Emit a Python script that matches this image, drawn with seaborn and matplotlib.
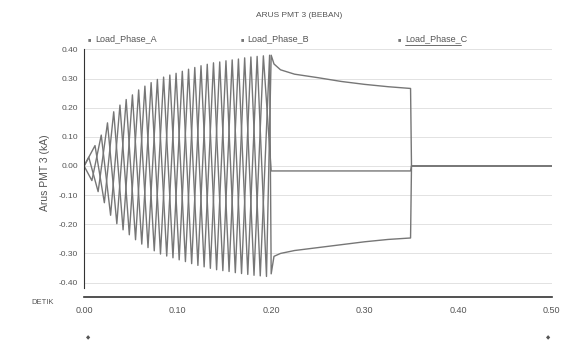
import numpy as np
import pandas as pd
import matplotlib
matplotlib.use("Agg")
import matplotlib.pyplot as plt
from matplotlib.lines import Line2D
import seaborn as sns

# --- data ---
phases = ['Load_Phase_A', 'Load_Phase_B', 'Load_Phase_C']

# successive current peaks (kA) of the three phases during the ramp-up,
# one every 1/300 s (peaks go A+, C-, B+, A-, C+, B-, ...)
peak_step_s = 0.003333
peak_amp = [0.030, 0.050, 0.070, 0.088, 0.106, 0.126, 0.148, 0.169, 0.186, 0.198,
            0.209, 0.219, 0.228, 0.236, 0.244, 0.253, 0.261, 0.268, 0.274, 0.280,
            0.286, 0.291, 0.297, 0.302, 0.305, 0.309, 0.312, 0.315, 0.318, 0.322,
            0.325, 0.328, 0.332, 0.335, 0.338, 0.341, 0.344, 0.346, 0.349, 0.351,
            0.354, 0.356, 0.357, 0.359, 0.361, 0.362, 0.364, 0.366, 0.367, 0.369,
            0.371, 0.372, 0.374, 0.375, 0.376, 0.377, 0.378, 0.379, 0.380]
peak_order = ['Load_Phase_A', 'Load_Phase_C', 'Load_Phase_B']

# after the switching at 0.20 s the three currents become flat (DC) levels
dc_time = [0.200, 0.203, 0.210, 0.225, 0.250, 0.275, 0.300, 0.325, 0.349]
dc_level = {
    'Load_Phase_A': [0.38, 0.35, 0.33, 0.315, 0.303, 0.29, 0.28, 0.272, 0.266],
    'Load_Phase_B': [-0.017, -0.017, -0.017, -0.017, -0.017, -0.017, -0.017, -0.017, -0.017],
    'Load_Phase_C': [-0.37, -0.31, -0.30, -0.29, -0.28, -0.27, -0.26, -0.252, -0.247],
}
off_time = [0.350, 0.500]
off_level = [0.0, 0.0]

x_ticks = [0.0, 0.1, 0.2, 0.3, 0.4, 0.5]
y_ticks = [0.4, 0.3, 0.2, 0.1, 0.0, -0.1, -0.2, -0.3, -0.4]

# build long table
rows = [(ph, 0.0, 0.0) for ph in phases]
for j, a in enumerate(peak_amp):
    t = 0.005 + j * peak_step_s
    rows.append((peak_order[j % 3], t, a if j % 2 == 0 else -a))
for ph in phases:
    for t, v in zip(dc_time, dc_level[ph]):
        rows.append((ph, t, v))
    for t, v in zip(off_time, off_level):
        rows.append((ph, t, v))
df = pd.DataFrame(rows, columns=['phase', 'time', 'current'])

sns.set_style('white')
plt.rcParams['font.family'] = ['Liberation Sans', 'DejaVu Sans']
grey = '#767676'
txt = '#555555'

fig = plt.figure(figsize=(5.76, 3.5), dpi=100)
ax = fig.add_axes([0.146, 0.151, 0.812, 0.712])

sns.lineplot(data=df, x='time', y='current', hue='phase', units='phase',
             estimator=None, sort=True, palette=[grey] * 3, linewidth=1.0,
             legend=False, ax=ax)

for yv in y_ticks:
    ax.axhline(yv, color='#e2e2e2', linewidth=0.7, zorder=0)

ax.set_xlim(0.0, 0.5)
ax.set_ylim(-0.45, 0.405)
ax.set_xticks(x_ticks)
ax.set_xticklabels([f'{v:.2f}' for v in x_ticks], fontsize=6.5, color=txt)
ax.set_yticks(y_ticks)
ax.set_yticklabels([f'{v:.2f}' for v in y_ticks], fontsize=6, color=txt)
ax.tick_params(axis='both', length=2.5, width=0.6, color='#444444', pad=2)
ax.tick_params(axis='x', pad=4)
for s in ['top', 'right']:
    ax.spines[s].set_visible(False)
ax.spines['left'].set_bounds(-0.42, 0.40)
ax.spines['left'].set_color('#333333')
ax.spines['bottom'].set_color('#333333')
ax.spines['bottom'].set_linewidth(1.2)
ax.set_xlabel('')
ax.set_ylabel('Arus PMT 3 (kA)', fontsize=7.5, color=txt, labelpad=6)

fig.text(0.52, 0.955, 'ARUS PMT 3 (BEBAN)', fontsize=6, color=txt, ha='center', va='center')
fig.text(0.055, 0.135, 'DETIK', fontsize=5.5, color=txt, ha='left', va='center')

leg_x = [0.153, 0.417, 0.690]
for x, ph in zip(leg_x, phases):
    fig.text(x, 0.888, '\u25a0', fontsize=4, color=grey, ha='left', va='center')
    fig.text(x + 0.013, 0.888, ph, fontsize=6.5, color=txt, ha='left', va='center')
fig.add_artist(Line2D([0.703, 0.800], [0.872, 0.872], color=txt, linewidth=0.6))

fig.text(0.153, 0.035, '\u25c6', fontsize=4, color=txt, ha='center', va='center')
fig.text(0.951, 0.035, '\u25c6', fontsize=4, color=txt, ha='center', va='center')

fig.savefig('out.png', dpi=100)
